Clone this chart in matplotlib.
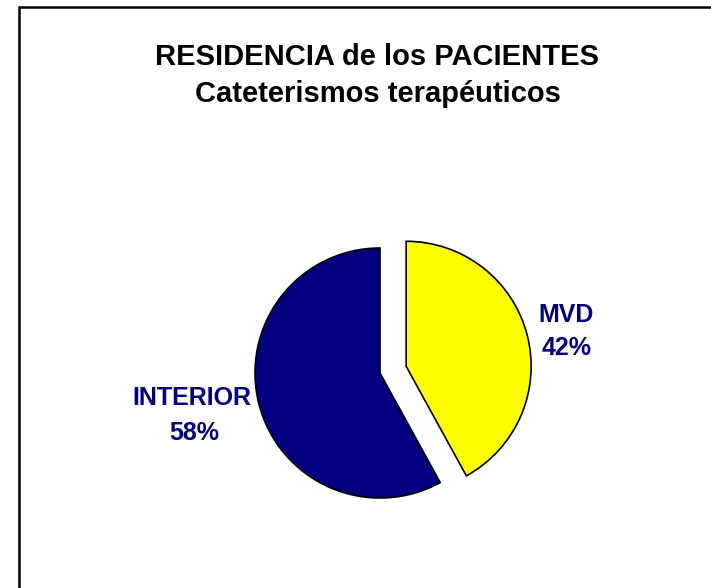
import matplotlib
matplotlib.use("Agg")
import matplotlib.pyplot as plt
from matplotlib.patches import Rectangle

labels = ["MVD", "INTERIOR"]
values = [42, 58]
colors = ["#FFFF00", "#000080"]
explode = [27, 0]  # pie() takes the offset in data units, here pixels

title_1 = "RESIDENCIA de los PACIENTES"
title_2 = "Cateterismos terapéuticos"

plt.rcParams["font.family"] = ["Liberation Sans", "DejaVu Sans"]

H = 588
fig = plt.figure(figsize=(7.11, 5.88), dpi=100)
ax = fig.add_axes([0, 0, 1, 1])

wedges, _ = ax.pie(values, colors=colors, explode=explode, startangle=90,
                   counterclock=False, center=(380, H - 373), radius=125,
                   wedgeprops=dict(edgecolor="black", linewidth=1.2))

# pie() resets the limits, so set the pixel-like frame afterwards
ax.set_xlim(0, 711)
ax.set_ylim(0, H)
ax.set_aspect("equal")
ax.axis("off")

# frame round the chart, cut off at right and bottom like the original
ax.add_patch(Rectangle((19, -20), 720, H - 7 + 20, fill=False,
                       edgecolor="black", linewidth=1.8, clip_on=False))

pct = [f"{v}%" for v in values]
lab = dict(ha="center", va="baseline", fontsize=18, fontweight="bold",
           color="#000080")
ax.text(566, H - 322, labels[0], **lab)
ax.text(567, H - 355, pct[0], **lab)
ax.text(192, H - 405, labels[1], **lab)
ax.text(194, H - 440, pct[1], **lab)

tit = dict(ha="center", va="baseline", fontsize=21, fontweight="bold",
           color="black")
ax.text(377, H - 65, title_1, **tit)
ax.text(378, H - 102, title_2, **tit)

fig.savefig("out.png", dpi=100)
